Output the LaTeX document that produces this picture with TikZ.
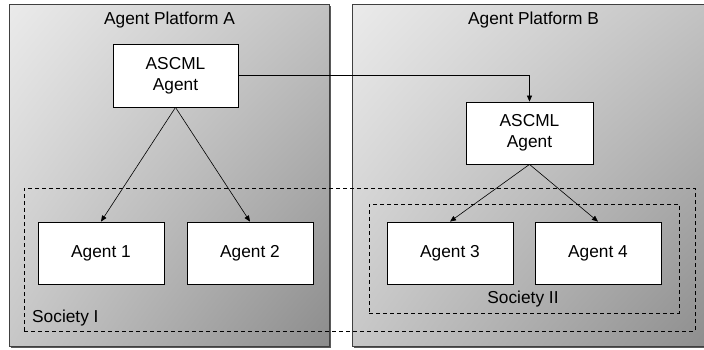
\documentclass[tikz,border=0pt]{standalone}
\usepackage{fontspec}
\setmainfont{Liberation Sans}
\usetikzlibrary{arrows.meta,shadows,shadings}

\tikzset{
  platform/.style={rectangle, inner sep=0pt, draw=black!75, line width=1pt, shade,
    shading=bilinear interpolation,
    upper left=black!8, upper right=black!24, lower left=black!22, lower right=black!45,
    drop shadow={shadow xshift=2pt, shadow yshift=-2pt, fill=black!65, opacity=1}},
  agentbox/.style={rectangle, draw=black, line width=0.8pt, fill=white, inner sep=0pt,
    minimum width=126pt, minimum height=62pt, align=center},
  society/.style={rectangle, draw=black, line width=0.9pt, dash pattern=on 4pt off 3pt, inner sep=0pt},
  title/.style={inner sep=0pt},
  link/.style={draw=black, line width=0.6pt, -{Triangle[length=6pt,width=5pt]}}
}

\begin{document}
\begin{tikzpicture}[x=1pt,y=-1pt,font=\fontsize{17.3}{21}\selectfont]
  \useasboundingbox (0,0) rectangle (704,349);
  \clip (0,0) rectangle (704,349);

  % platforms
  \node[platform, minimum width=320pt, minimum height=342pt] (platA) at (169,175) {};
  \node[platform, minimum width=364pt, minimum height=342pt] (platB) at (534,175) {};
  \node[title] (titleA) at (169.5,20) {Agent Platform A};
  \node[title] (titleB) at (533.5,20) {Agent Platform B};

  % societies
  \node[society, minimum width=671pt, minimum height=143pt] (socI) at (359.5,259.5) {};
  \node[society, minimum width=310pt, minimum height=109pt] (socII) at (524,258.5) {};
  \node[title, anchor=west] (socIlbl) at (32,318) {Society I};
  \node[title] (socIIlbl) at (523,299) {Society II};

  % agents
  \node[agentbox, minimum width=125pt, minimum height=63pt] (ascA) at (175.5,75.5) {ASCML\\Agent};
  \node[agentbox, minimum width=127pt] (ascB) at (529.5,133) {ASCML\\Agent};
  \node[agentbox] (ag1) at (101,253) {Agent 1};
  \node[agentbox] (ag2) at (250,253) {Agent 2};
  \node[agentbox] (ag3) at (450,253) {Agent 3};
  \node[agentbox] (ag4) at (598,253) {Agent 4};

  % connectors
  \draw[link] (ascA.east) -| (ascB.north);
  \draw[link] (ascA.south) -- (ag1.north);
  \draw[link] (ascA.south) -- (ag2.north);
  \draw[link] (ascB.south) -- (ag3.north);
  \draw[link] (ascB.south) -- (ag4.north);
\end{tikzpicture}
\end{document}
